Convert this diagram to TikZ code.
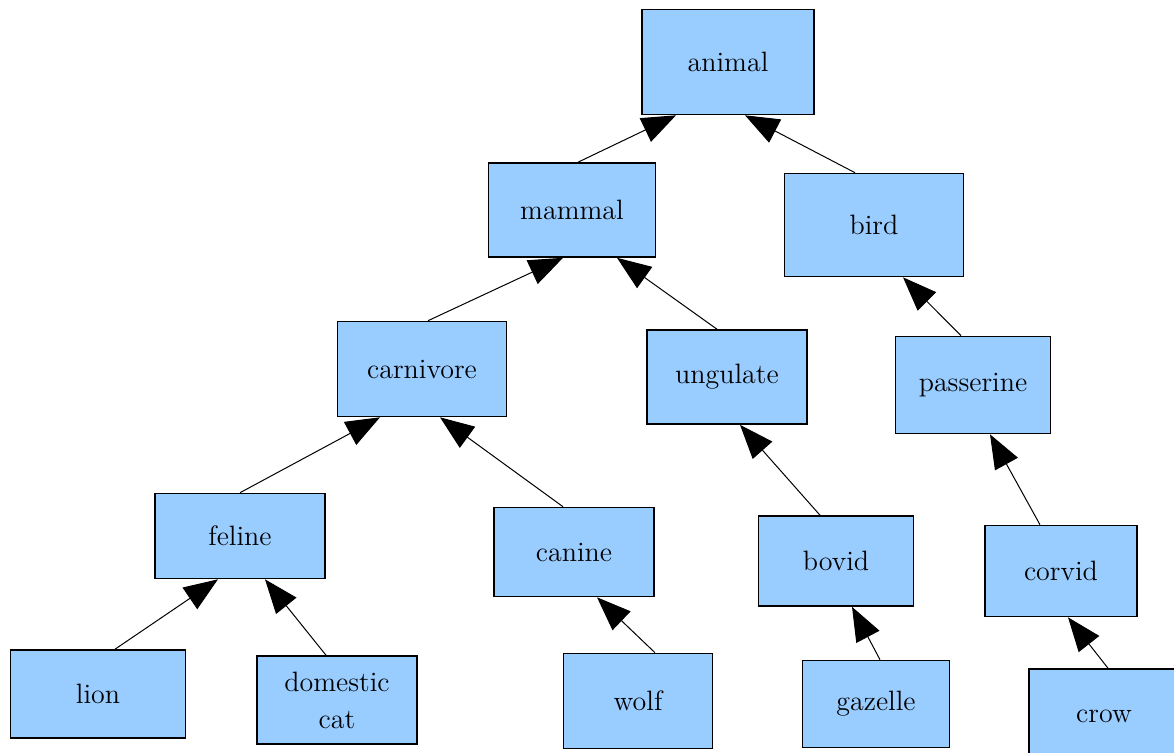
\documentclass[tikz,border=0pt]{standalone}
\usepackage{xcolor}
\definecolor{boxblue}{RGB}{153,204,255}
\usepackage{tikz}
\usetikzlibrary{arrows.meta}
\tikzset{
  taxon/.style={draw=black,line width=0.8pt,fill=boxblue,%
    font=\rmfamily\fontsize{14}{18.5}\selectfont,inner sep=2pt,align=center},
  sz/.style 2 args={minimum width=#1,minimum height=#2},
  isa/.style={-{Triangle[length=17pt,width=13pt]},line width=0.5pt,draw=black},
}
\begin{document}
\begin{tikzpicture}[x=1pt,y=1pt]
\useasboundingbox (0,0) rectangle (587,-376);
\begin{scope}
\clip (0,0) rectangle (587,-376);
\node[taxon,sz={86pt}{52.5pt}] (animal) at (364,-31) {animal};
\node[taxon,sz={83.5pt}{47pt}] (mammal) at (286,-105) {mammal};
\node[taxon,sz={89.5pt}{51.5pt}] (bird) at (437,-112.5) {bird};
\node[taxon,sz={84.5pt}{47.5pt}] (carnivore) at (211,-184.5) {carnivore};
\node[taxon,sz={80pt}{47pt}] (ungulate) at (363.5,-188.5) {ungulate};
\node[taxon,sz={77.5pt}{48.5pt}] (passerine) at (486.5,-192.5) {passerine};
\node[taxon,sz={85pt}{42.5pt}] (feline) at (120,-268) {feline};
\node[taxon,sz={80pt}{44.5pt}] (canine) at (287,-276) {canine};
\node[taxon,sz={77.5pt}{45pt}] (bovid) at (418,-280.5) {bovid};
\node[taxon,sz={76pt}{45.5pt}] (corvid) at (530.5,-285.5) {corvid};
\node[taxon,sz={87.5pt}{44pt}] (lion) at (49,-347) {lion};
\node[taxon,sz={80pt}{44pt}] (cat) at (168.5,-350) {domestic\\cat};
\node[taxon,sz={74.5pt}{47.5pt}] (wolf) at (319,-350.5) {wolf};
\node[taxon,sz={73.5pt}{43.5pt}] (gazelle) at (438,-352) {gazelle};
\node[taxon,sz={75pt}{47pt}] (crow) at (552,-358) {crow};
% is-a links, child -> parent
\draw[isa] ([xshift=3pt]mammal.north) -- ([xshift=-26pt]animal.south);
\draw[isa] ([xshift=-9.5pt]bird.north) -- ([xshift=8.5pt]animal.south);
\draw[isa] ([xshift=3pt]carnivore.north) -- ([xshift=-4.5pt]mammal.south);
\draw[isa] ([xshift=-5pt]ungulate.north) -- ([xshift=22.5pt]mammal.south);
\draw[isa] ([xshift=-6pt]passerine.north) -- ([xshift=14.5pt]bird.south);
\draw[isa] (feline.north) -- ([xshift=-21pt]carnivore.south);
\draw[isa] ([xshift=-5.5pt]canine.north) -- ([xshift=9pt]carnivore.south);
\draw[isa] ([xshift=-8pt]bovid.north) -- ([xshift=6.5pt]ungulate.south);
\draw[isa] ([xshift=-10.5pt]corvid.north) -- ([xshift=8.5pt]passerine.south);
\draw[isa] ([xshift=8.5pt]lion.north) -- ([xshift=-11pt]feline.south);
\draw[isa] ([xshift=-5.5pt]cat.north) -- ([xshift=12.5pt]feline.south);
\draw[isa] ([xshift=8.5pt]wolf.north) -- ([xshift=11.5pt]canine.south);
\draw[isa] ([xshift=2pt]gazelle.north) -- ([xshift=8pt]bovid.south);
\draw[isa] ([xshift=2pt]crow.north) -- ([xshift=3.5pt]corvid.south);
\end{scope}
\end{tikzpicture}
\end{document}
